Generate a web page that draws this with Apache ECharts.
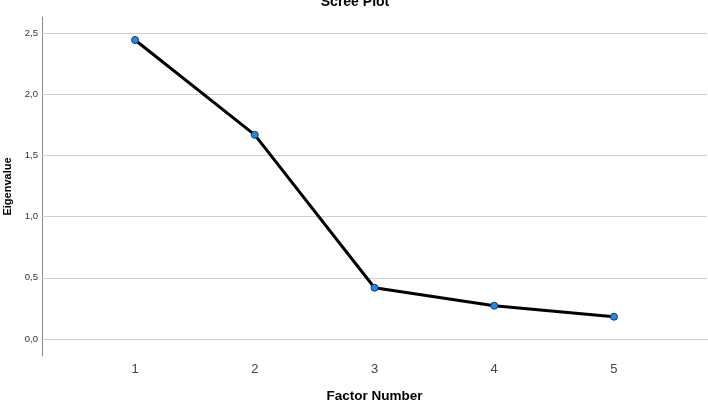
<!DOCTYPE html>
<html>
<head>
<meta charset="utf-8">
<script src="https://cdn.jsdelivr.net/npm/echarts@6/dist/echarts.min.js"></script>
<style>html,body{margin:0;padding:0;background:#fff;}#c{width:708px;height:403px;}</style>
</head>
<body>
<div id="c"></div>
<script>
const factors = [1, 2, 3, 4, 5];
const eigenvalues = [2.443, 1.668, 0.419, 0.272, 0.182];
const yTicks = [0, 0.5, 1.0, 1.5, 2.0, 2.5];
const titleText = 'Scree Plot';
const xTitle = 'Factor Number';
const yTitle = 'Eigenvalue';

const chart = echarts.init(document.getElementById('c'), null, {renderer: 'canvas'});
const font = 'Liberation Sans, Arial, sans-serif';
chart.setOption({
  animation: false,
  backgroundColor: '#ffffff',
  title: {
    text: titleText,
    left: 350, top: -10,
    textAlign: 'center',
    textStyle: {fontFamily: font, fontSize: 14, fontWeight: 'bold', color: '#000'}
  },
  grid: {left: 42, right: 1, top: 17, bottom: 47, containLabel: false, outerBoundsMode: 'none'},
  xAxis: {
    type: 'value', min: 0.223, max: 5.777,
    name: xTitle, nameLocation: 'middle', nameGap: 33,
    nameTextStyle: {fontFamily: font, fontSize: 13.5, fontWeight: 'bold', color: '#000'},
    axisLine: {show: true, lineStyle: {color: '#8a8a8a', width: 1}},
    axisTick: {show: false},
    splitLine: {show: false},
    axisLabel: {customValues: factors, margin: 7, fontFamily: font, fontSize: 13, color: '#444'}
  },
  yAxis: {
    type: 'value', min: -0.139, max: 2.631,
    name: yTitle, nameLocation: 'middle', nameGap: 26, nameRotate: 90,
    nameTextStyle: {fontFamily: font, fontSize: 11, fontWeight: 'bold', color: '#000'},
    axisLine: {show: true, lineStyle: {color: '#8a8a8a', width: 1}},
    axisTick: {show: false},
    splitLine: {show: false},
    axisLabel: {customValues: yTicks, margin: 4, fontFamily: font, fontSize: 9.5, color: '#333',
      formatter: v => v.toFixed(1).replace('.', ',')}
  },
  series: [
    {
      type: 'line', data: [], z: 1, silent: true,
      markLine: {
        silent: true, symbol: ['none', 'none'], label: {show: false},
        lineStyle: {color: '#d0d0d0', type: 'solid', width: 1.2},
        emphasis: {disabled: true},
        data: yTicks.map(v => ({yAxis: v}))
      }
    },
    {
      type: 'line', z: 5,
      data: factors.map((f, i) => [f, eigenvalues[i]]),
      symbol: 'circle', symbolSize: 7, showSymbol: true,
      lineStyle: {color: '#000', width: 3},
      itemStyle: {color: '#1a8cf0', borderColor: '#1b3a5c', borderWidth: 1}
    }
  ]
});
</script>
</body>
</html>
